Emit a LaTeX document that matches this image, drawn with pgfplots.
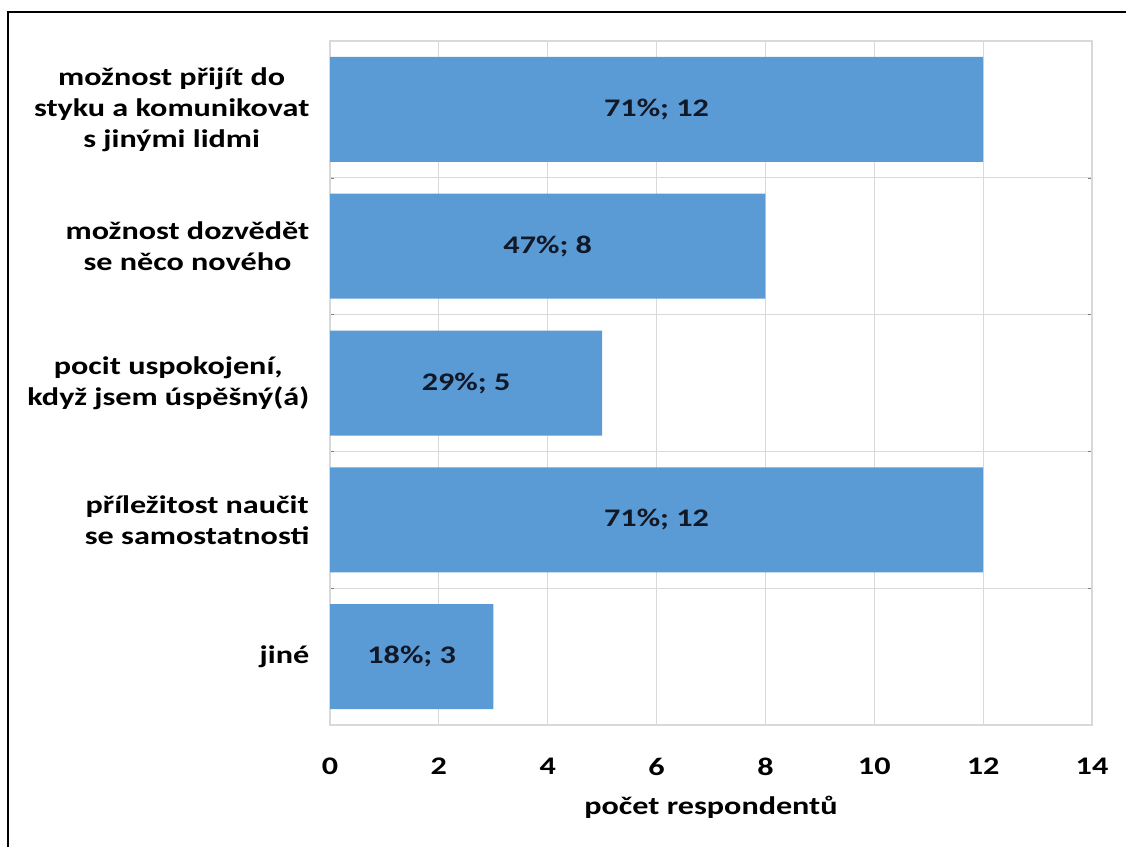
\documentclass[border=0pt]{standalone}
\usepackage{fontspec}
\setmainfont{Carlito}[FakeStretch=1.27]
\usepackage{pgfplots}
\pgfplotsset{compat=1.18}
\usepackage{pgfplotstable}
\definecolor{barblue}{HTML}{5B9BD5}
\definecolor{gridgray}{HTML}{D9D9D9}
\definecolor{labtxt}{HTML}{111827}
\newcommand{\semic}{;}
\pgfplotstableread{
y v
0 12
1 8
2 5
3 12
4 3
}\bars
\begin{document}
\begin{tikzpicture}[font=\fontsize{19}{23.25}\selectfont\bfseries]
\useasboundingbox (0,0) rectangle (844.5pt,635.25pt);
\draw[line width=1.1pt] (6pt,0) -- (6pt,626.25pt) -- (844.5pt,626.25pt);
\begin{axis}[
  at={(247.5pt,91.5pt)}, anchor=south west,
  scale only axis, width=571.5pt, height=513pt,
  xmin=0, xmax=14, xtick={0,2,...,14},
  ymin=-0.5, ymax=4.5, y dir=reverse,
  ytick={0,1,2,3,4},
  yticklabels={{možnost přijít do\\styku a komunikovat\\s jinými lidmi},{možnost dozvědět\\se něco nového},{pocit uspokojení,\\když jsem úspěšný(á)},{příležitost naučit\\se samostatnosti},{jiné}},
  yticklabel style={align=center, xshift=-12pt},
  xticklabel style={yshift=-21pt},
  /pgf/number format/assume math mode=true,
  major tick length=0pt,
  minor ytick={0.5,1.5,2.5,3.5},
  xmajorgrids, yminorgrids,
  grid style={gridgray, line width=0.8pt},
  axis line style={gridgray, line width=0.8pt},
  xlabel={počet respondentů},
  xlabel style={yshift=-9pt},
]
\addplot[xbar, bar width=78.75pt, fill=barblue, draw=none] table[x=v, y=y] {\bars};
\addplot[only marks, mark=none, nodes near coords, point meta=explicit symbolic,
  nodes near coords style={anchor=center, text=labtxt}]
  coordinates {(6,0) [{71\%\semic{} 12}] (4,1) [{47\%\semic{} 8}] (2.5,2) [{29\%\semic{} 5}] (6,3) [{71\%\semic{} 12}] (1.5,4) [{18\%\semic{} 3}]};
\end{axis}
\end{tikzpicture}
\end{document}
